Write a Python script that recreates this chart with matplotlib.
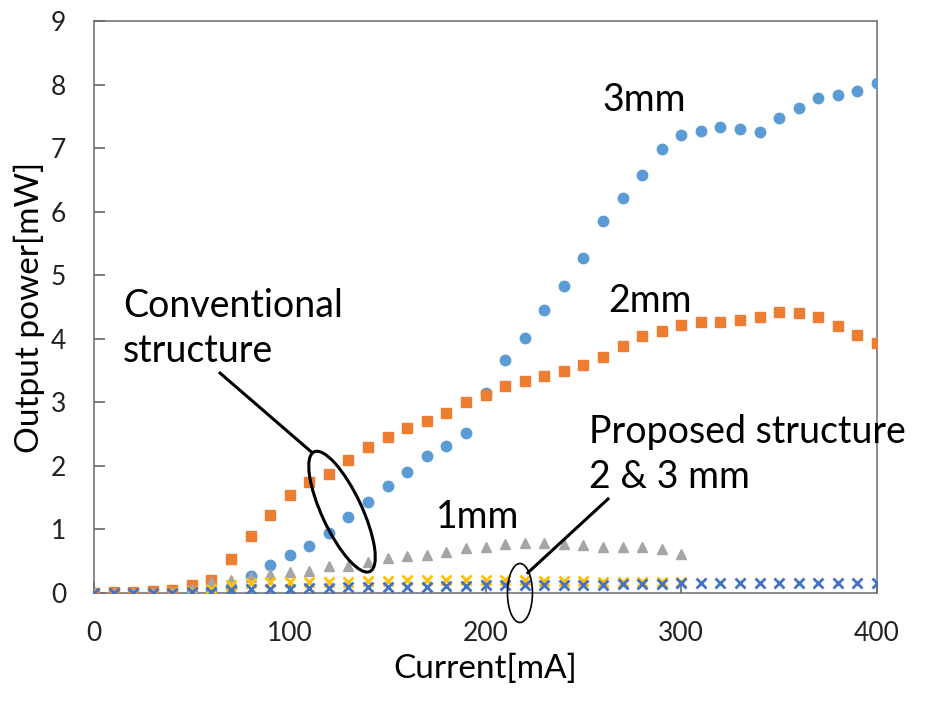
import matplotlib
matplotlib.use("Agg")
import matplotlib.pyplot as plt
from matplotlib.patches import Ellipse
from matplotlib.transforms import ScaledTranslation

# current axis, mA
current = list(range(0, 410, 10))
current_300 = list(range(0, 310, 10))

# conventional structure, output power in mW
conv_3mm = [0, 0, 0, 0, 0.01, 0.02, 0.04, 0.1, 0.27, 0.44, 0.6, 0.74, 0.95, 1.19, 1.43,
            1.68, 1.91, 2.16, 2.32, 2.51, 3.14, 3.66, 4.02, 4.45, 4.83, 5.27, 5.85, 6.21,
            6.57, 6.98, 7.2, 7.27, 7.33, 7.3, 7.25, 7.47, 7.63, 7.79, 7.84, 7.9, 8.02]
conv_2mm = [0, 0.01, 0.02, 0.03, 0.05, 0.12, 0.2, 0.53, 0.89, 1.22, 1.54, 1.74, 1.88, 2.09,
            2.29, 2.46, 2.59, 2.7, 2.84, 3.0, 3.12, 3.25, 3.33, 3.42, 3.49, 3.58, 3.72, 3.88,
            4.04, 4.12, 4.21, 4.26, 4.27, 4.3, 4.35, 4.42, 4.4, 4.35, 4.2, 4.06, 3.94]
conv_1mm = [0, 0, 0, 0, 0.02, 0.07, 0.17, 0.2, 0.25, 0.3, 0.33, 0.35, 0.42, 0.43, 0.49,
            0.55, 0.58, 0.6, 0.65, 0.71, 0.73, 0.77, 0.79, 0.79, 0.77, 0.75, 0.73, 0.73,
            0.72, 0.69, 0.62]

# proposed structure
prop_2mm = [0, 0, 0, 0, 0.01, 0.03, 0.07, 0.12, 0.16, 0.17, 0.17, 0.18, 0.18, 0.18, 0.19,
            0.19, 0.2, 0.2, 0.2, 0.2, 0.2, 0.2, 0.2, 0.19, 0.19, 0.19, 0.18, 0.18, 0.18,
            0.17, 0.17]
prop_3mm = [0, 0, 0, 0, 0, 0.01, 0.02, 0.04, 0.06, 0.07, 0.07, 0.08, 0.08, 0.09, 0.09, 0.1,
            0.1, 0.1, 0.11, 0.11, 0.12, 0.12, 0.12, 0.13, 0.13, 0.13, 0.13, 0.14, 0.14, 0.14,
            0.15, 0.15, 0.15, 0.15, 0.15, 0.15, 0.16, 0.16, 0.16, 0.16, 0.16]

x_ticks = [0, 100, 200, 300, 400]
y_ticks = list(range(0, 10))

plt.rcParams['font.family'] = ['Lato', 'DejaVu Sans']

fig = plt.figure(figsize=(9.25, 7.02), dpi=100)
ax = fig.add_axes([94 / 925, 109 / 702, 783 / 925, 572 / 702])

ax.plot(current, conv_3mm, 'o', color='#5B9BD5', markersize=7.5, zorder=3)
ax.plot(current, conv_2mm, 's', color='#ED7D31', markersize=7, zorder=3)
ax.plot(current_300, conv_1mm, '^', color='#A5A5A5', markersize=7, zorder=3)
ax.plot(current_300, prop_2mm, 'x', color='#FFC000', markersize=7, mew=2, zorder=3)
ax.plot(current, prop_3mm, 'x', color='#4472C4', markersize=7, mew=2, zorder=3)

ax.set_xlim(0, 400)
ax.set_ylim(0, 9)
ax.set_xticks(x_ticks)
ax.set_yticks(y_ticks)
ax.tick_params(direction='in', length=8, width=1.1, color='#595959',
               labelsize=19, pad=20, labelcolor='#222222')
for sp in ax.spines.values():
    sp.set_color('#6b6b6b')
    sp.set_linewidth(1.1)

ax.set_xlabel('Current[mA]', fontsize=24, labelpad=6)
ax.set_ylabel('Output power[mW]', fontsize=24, labelpad=4)

txt = dict(fontsize=27, color='black', zorder=5)
ax.text(281, 7.75, '3mm', ha='center', va='center', **txt)
ax.text(284, 4.59, '2mm', ha='center', va='center', **txt)
ax.text(196, 1.2, '1mm', ha='center', va='center', **txt)
ax.text(14.8, 4.16, 'Conventional\nstructure', ha='left', va='center',
        linespacing=1.3, **txt)
ax.text(253, 2.18, 'Proposed structure\n2 & 3 mm', ha='left', va='center',
        linespacing=1.3, clip_on=False, **txt)

# ellipses drawn in inches around a data point
conv_ell = Ellipse((0, 0), 1.32, 0.40, angle=-65, fill=False, lw=2.2, color='black',
                   transform=fig.dpi_scale_trans + ScaledTranslation(126.7, 1.28, ax.transData),
                   zorder=4)
prop_ell = Ellipse((0, 0), 0.25, 0.59, fill=False, lw=1.2, color='black', clip_on=False,
                   transform=fig.dpi_scale_trans + ScaledTranslation(217.6, 0.0, ax.transData),
                   zorder=4)
ax.add_patch(conv_ell)
ax.add_patch(prop_ell)

ax.plot([64.4, 111.4], [3.46, 2.21], color='black', lw=2.2, zorder=4)
ax.plot([221.7, 262.6], [0.32, 1.48], color='black', lw=2.2, zorder=4)

fig.savefig('out.png', dpi=100)
